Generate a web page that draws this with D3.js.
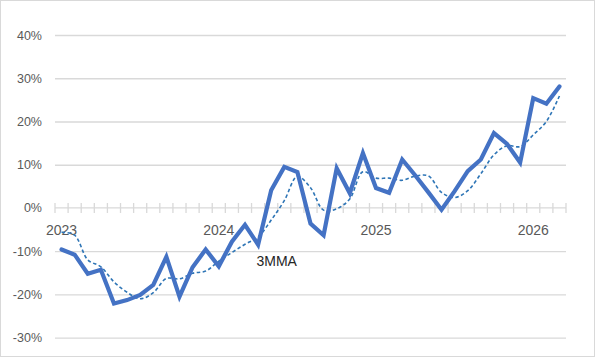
<!DOCTYPE html>
<html><head><meta charset="utf-8">
<script src="https://cdn.jsdelivr.net/npm/d3@7"></script>
<style>html,body{margin:0;padding:0;background:#fff}svg{display:block}</style>
</head><body>
<script>
const months = [];
for (let yr = 2023; yr <= 2026; yr++) for (let m = 1; m <= 12; m++) months.push(yr + "-" + String(m).padStart(2, "0"));
const categories = months.slice(0, 39);
const yearLabels = ["2023", "2024", "2025", "2026"];
const yTicks = [-30, -20, -10, 0, 10, 20, 30, 40];
const seriesMain = [-9.6, -10.8, -15.2, -14.3, -22.1, -21.3, -20.1, -17.8, -11.3, -20.5,
  -13.7, -9.6, -13.5, -7.8, -3.9, -8.5, 4.1, 9.5, 8.3, -3.6,
  -6.3, 9.2, 3.4, 12.7, 4.6, 3.5, 11.2, 7.5, 3.6, -0.4,
  3.9, 8.5, 11.2, 17.3, 14.8, 10.5, 25.4, 24.1, 28.1];
const series3MMA = [-5.6, -6.3, -12.0, -13.6, -17.1, -19.5, -21.0, -19.6, -16.3, -16.4,
  -15.1, -14.6, -12.3, -10.3, -8.4, -6.7, -2.8, 1.7, 7.3, 4.7,
  -0.5, -0.2, 2.1, 8.4, 6.9, 6.9, 6.4, 7.4, 7.4, 3.6,
  2.4, 4.0, 7.9, 12.3, 14.4, 14.2, 16.9, 20.0, 25.9];
const seriesLabel = "3MMA";

const W = 595, H = 357;
const svg = d3.select("body").append("svg").attr("width", W).attr("height", H);
svg.append("rect").attr("x", 0.5).attr("y", 0.5).attr("width", W - 1).attr("height", H - 1)
  .attr("fill", "#fff").attr("stroke", "#d9d9d9");

const x = d3.scaleBand().domain(categories).range([55, 566]).padding(0);
const y = d3.scaleLinear().domain([-30, 40]).range([337.7, 35]);
const cx = c => x(c) + x.bandwidth() / 2;
const font = "'Liberation Sans', Arial, sans-serif";

// gridlines
const grid = svg.append("g").attr("transform", "translate(55,0)")
  .call(d3.axisLeft(y).tickValues(yTicks.filter(v => v !== 0)).tickSize(-(566 - 55)).tickFormat(""));
grid.select(".domain").remove();
grid.selectAll("line").attr("stroke", "#d9d9d9").attr("stroke-width", 1.3);

// y labels
const ya = svg.append("g").attr("transform", "translate(42,0)")
  .call(d3.axisLeft(y).tickValues(yTicks).tickSize(0).tickPadding(0).tickFormat(d => d + "%"));
ya.select(".domain").remove();
ya.selectAll("text").attr("font-family", font).attr("font-size", 12.5).attr("fill", "#595959");

// zero axis with cross tick marks
const y0 = y(0);
svg.append("line").attr("x1", 55).attr("x2", 566).attr("y1", y0).attr("y2", y0)
  .attr("stroke", "#d9d9d9").attr("stroke-width", 1.3);
const boundaries = categories.map(c => x(c)).concat([x(categories[categories.length - 1]) + x.bandwidth()]);
svg.append("g").selectAll("line").data(boundaries).join("line")
  .attr("x1", d => d).attr("x2", d => d).attr("y1", y0 - 5).attr("y2", y0 + 5)
  .attr("stroke", "#d9d9d9").attr("stroke-width", 1.3);

// category labels (January of each year)
const janCats = categories.filter(c => c.endsWith("-01"));
svg.append("g").selectAll("text").data(janCats).join("text")
  .attr("x", d => cx(d)).attr("y", y0 + 27.5).attr("text-anchor", "middle")
  .attr("font-family", font).attr("font-size", 14).attr("fill", "#595959")
  .text((d, i) => yearLabels[i]);

// lines
const lineMain = d3.line().x((d, i) => cx(categories[i])).y(d => y(d));
const lineMA = d3.line().x((d, i) => cx(categories[i])).y(d => y(d)).curve(d3.curveCatmullRom.alpha(0.5));
svg.append("path").datum(series3MMA).attr("d", lineMA).attr("fill", "none")
  .attr("stroke", "#2E75B6").attr("stroke-width", 1.6).attr("stroke-dasharray", "3.5,2.5");
svg.append("path").datum(seriesMain).attr("d", lineMain).attr("fill", "none")
  .attr("stroke", "#4472C4").attr("stroke-width", 4.2).attr("stroke-linejoin", "miter").attr("stroke-linecap", "round");

// series label
svg.append("text").attr("x", 256.5).attr("y", 265.5).attr("font-family", font).attr("font-size", 14)
  .attr("fill", "#262626").text(seriesLabel);
</script>
</body></html>
